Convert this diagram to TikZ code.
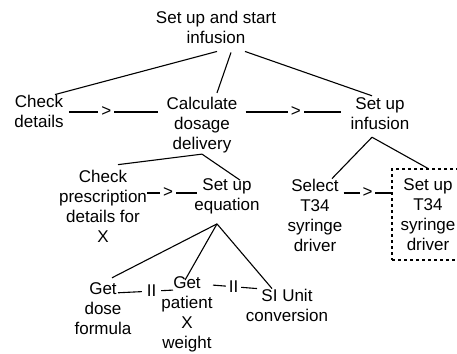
\documentclass[tikz,border=0pt]{standalone}
\usepackage{fontspec}
\setmainfont{Liberation Sans}
\usetikzlibrary{calc}
\begin{document}
\begin{tikzpicture}[x=1pt,y=-1pt,
  txt/.style={align=center, inner sep=0pt, font=\fontsize{17}{20}\selectfont},
  conn/.style={line width=1.1pt},
  sym/.style={fill=white, inner xsep=3pt, inner ysep=0pt, font=\fontsize{17}{20}\selectfont},
  dashbox/.style={draw, dashed, dash pattern=on 3pt off 3pt, line width=1.1pt, minimum width=72pt, minimum height=91pt}]
\useasboundingbox (0,0) rectangle (457,353);
\clip (0,0) rectangle (457,353);
% nodes
\node[txt] (top) at (216,27) {Set up and start\\infusion};
\node[txt] (check) at (39,111) {Check\\details};
\node[txt] (calc) at (202,125) {Calculate\\dosage\\delivery};
\node[txt] (setinf) at (380,114) {Set up\\infusion};
\node[txt] (pres) at (103,206) {Check\\prescription\\details for\\X};
\node[txt] (eq) at (227,196) {Set up\\equation};
\node[txt] (sel) at (315,215) {Select\\T34\\syringe\\driver};
\node[txt, dashbox] (t34) at (428,214.5) {Set up\\T34\\syringe\\driver};
\node[txt] (dose) at (103,309) {Get\\dose\\formula};
\node[txt] (pat) at (187,314) {Get\\patient\\X\\weight};
\node[txt] (si) at (287,305) {SI Unit\\conversion};
% hierarchy lines
\draw[conn] ($(top.south)+(1,8)$) -- ($(check.north)+(16,0)$);
\draw[conn] ($(top.south)+(15,9)$) -- ($(calc.north)+(15,-4)$);
\draw[conn] ($(top.south)+(29,8)$) -- ($(setinf.north)+(-8,-2)$);
\draw[conn] ($(calc.south)+(0,1)$) -- ($(pres.north)+(15,-5)$);
\draw[conn] ($(calc.south)+(0,1)$) -- ($(eq.north)+(13,2)$);
\draw[conn] ($(setinf.south)+(-8,7)$) -- ($(sel.north)+(17,0)$);
\draw[conn] ($(setinf.south)+(-8,7)$) -- (t34.north);
\draw[conn] ($(eq.south)+(-10,10)$) -- ($(dose.north)+(9,-5)$);
\draw[conn] ($(eq.south)+(-10,10)$) -- ($(pat.north)+(-2,4)$);
\draw[conn] ($(eq.south)+(-10,10)$) -- ($(si.north)+(-15,0)$);
% sequence connectors
\draw[conn] ($(check.east)+(5,1)$) -- node[sym, pos=0.42] {>} ($(calc.west)+(-8,-13)$);
\draw[conn] ($(calc.east)+(8,-13)$) -- node[sym, pos=0.53] {>} ($(setinf.west)+(-10,-2)$);
\draw[conn] ($(pres.east)+(0,-13)$) -- node[sym, pos=0.42] {>} ($(eq.west)+(3,-3)$);
\draw[conn] ($(sel.east)+(1,-22)$) -- node[sym, pos=0.5] {>} ($(t34.west)+(0,-21.5)$);
% interleaving connectors
\draw[conn] ($(dose.north)+(15,10)$) -- node[sym, inner xsep=5pt, pos=0.61] {II} ($(pat.north)+(-14,14)$);
\draw[conn] ($(pat.north)+(26,9)$) -- node[sym, inner xsep=3pt, pos=0.47] {II} ($(si.north)+(-30,0)$);
\end{tikzpicture}
\end{document}
